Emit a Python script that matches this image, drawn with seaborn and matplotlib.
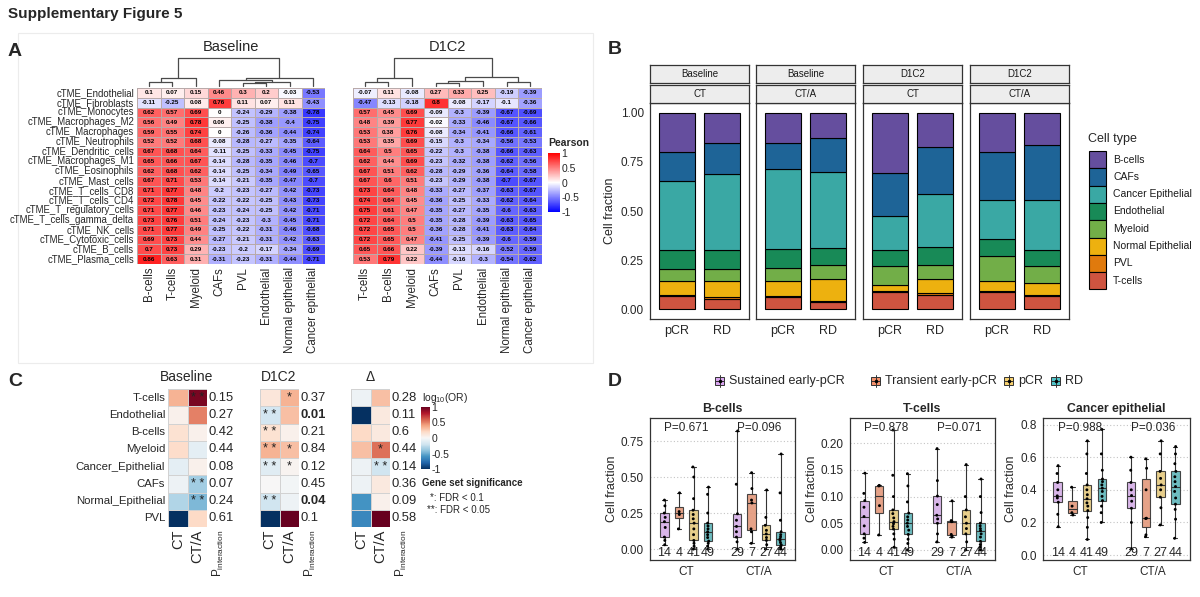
"""Supplementary Figure 5: TME signature correlations, cell fractions, enrichment and boxplots"""

import numpy as np
import pandas as pd
import matplotlib
matplotlib.use("Agg")
import matplotlib.pyplot as plt
import matplotlib.cm as cm
from matplotlib.colors import LinearSegmentedColormap, Normalize
from matplotlib.patches import Rectangle
from matplotlib.ticker import FormatStrFormatter
import seaborn as sns

W, H = 1200, 597

# ---------------- panel A data ----------------
signatures = ["cTME_Endothelial", "cTME_Fibroblasts", "cTME_Monocytes", "cTME_Macrophages_M2",
              "cTME_Macrophages", "cTME_Neutrophils", "cTME_Dendritic_cells", "cTME_Macrophages_M1",
              "cTME_Eosinophils", "cTME_Mast_cells", "cTME_T_cells_CD8", "cTME_T_cells_CD4",
              "cTME_T_regulatory_cells", "cTME_T_cells_gamma_delta", "cTME_NK_cells",
              "cTME_Cytotoxic_cells", "cTME_B_cells", "cTME_Plasma_cells"]

baseline_cols = ["B-cells", "T-cells", "Myeloid", "CAFs", "PVL", "Endothelial",
                 "Normal epithelial", "Cancer epithelial"]
baseline_r = [
    [0.1, 0.07, 0.15, 0.46, 0.3, 0.2, -0.03, -0.53],
    [-0.11, -0.25, 0.08, 0.76, 0.11, 0.07, 0.11, -0.43],
    [0.62, 0.57, 0.69, 0, -0.24, -0.29, -0.38, -0.78],
    [0.56, 0.49, 0.78, 0.06, -0.25, -0.38, -0.4, -0.75],
    [0.59, 0.55, 0.74, 0, -0.26, -0.36, -0.44, -0.74],
    [0.52, 0.52, 0.68, -0.08, -0.28, -0.27, -0.35, -0.64],
    [0.67, 0.68, 0.64, -0.11, -0.25, -0.33, -0.45, -0.75],
    [0.65, 0.66, 0.67, -0.14, -0.28, -0.35, -0.46, -0.7],
    [0.62, 0.68, 0.62, -0.14, -0.25, -0.34, -0.49, -0.65],
    [0.67, 0.71, 0.53, -0.14, -0.21, -0.35, -0.47, -0.7],
    [0.71, 0.77, 0.48, -0.2, -0.23, -0.27, -0.42, -0.73],
    [0.72, 0.78, 0.45, -0.22, -0.22, -0.25, -0.43, -0.73],
    [0.71, 0.77, 0.46, -0.23, -0.24, -0.25, -0.42, -0.71],
    [0.73, 0.76, 0.51, -0.24, -0.23, -0.3, -0.45, -0.71],
    [0.71, 0.77, 0.49, -0.25, -0.22, -0.31, -0.46, -0.68],
    [0.69, 0.73, 0.44, -0.27, -0.21, -0.31, -0.42, -0.63],
    [0.7, 0.73, 0.29, -0.23, -0.2, -0.17, -0.34, -0.69],
    [0.86, 0.63, 0.31, -0.31, -0.23, -0.31, -0.44, -0.71],
]

d1c2_cols = ["T-cells", "B-cells", "Myeloid", "CAFs", "PVL", "Endothelial",
             "Normal epithelial", "Cancer epithelial"]
d1c2_r = [
    [-0.07, 0.11, -0.08, 0.27, 0.33, 0.25, -0.19, -0.39],
    [-0.47, -0.13, -0.18, 0.8, -0.08, -0.17, -0.1, -0.36],
    [0.57, 0.45, 0.69, -0.09, -0.3, -0.39, -0.67, -0.69],
    [0.48, 0.39, 0.77, -0.02, -0.33, -0.46, -0.67, -0.66],
    [0.53, 0.38, 0.76, -0.08, -0.34, -0.41, -0.66, -0.61],
    [0.53, 0.35, 0.69, -0.15, -0.3, -0.34, -0.56, -0.53],
    [0.64, 0.5, 0.65, -0.22, -0.3, -0.38, -0.66, -0.63],
    [0.62, 0.44, 0.69, -0.23, -0.32, -0.38, -0.62, -0.56],
    [0.67, 0.51, 0.62, -0.28, -0.29, -0.36, -0.64, -0.58],
    [0.67, 0.6, 0.51, -0.23, -0.29, -0.38, -0.7, -0.67],
    [0.73, 0.64, 0.48, -0.33, -0.27, -0.37, -0.63, -0.67],
    [0.74, 0.64, 0.45, -0.36, -0.25, -0.33, -0.62, -0.64],
    [0.75, 0.61, 0.47, -0.35, -0.27, -0.35, -0.6, -0.63],
    [0.72, 0.64, 0.5, -0.35, -0.28, -0.39, -0.63, -0.65],
    [0.72, 0.65, 0.5, -0.36, -0.28, -0.41, -0.63, -0.64],
    [0.72, 0.65, 0.47, -0.41, -0.25, -0.39, -0.6, -0.59],
    [0.65, 0.66, 0.22, -0.39, -0.13, -0.16, -0.52, -0.59],
    [0.53, 0.79, 0.22, -0.44, -0.16, -0.3, -0.54, -0.62],
]

# column dendrograms: (height, left, right), leaves are column indices
baseline_tree = (1.0, (0.26, (0.13, 0, 1), 2),
                 (0.26, (0.19, 3, (0.13, (0.09, 4, 5), 6)), 7))
d1c2_tree = (1.0, (0.27, (0.14, 0, 1), 2),
             (0.30, (0.17, (0.11, 3, 4), 5), (0.15, 6, 7)))

# ---------------- panel B data ----------------
samples_time = ["Baseline", "Baseline", "D1C2", "D1C2"]
samples_arm = ["CT", "CT/A", "CT", "CT/A"]
responses = ["pCR", "RD"]
# stacking order bottom -> top; 8 values = (facet1 pCR, RD, facet2 pCR, RD, ...)
cell_types = ["T-cells", "PVL", "Normal Epithelial", "Myeloid", "Endothelial",
              "Cancer Epithelial", "CAFs", "B-cells"]
frac_tcells = [0.065, 0.053, 0.061, 0.039, 0.090, 0.073, 0.090, 0.065]
frac_pvl = [0.006, 0.008, 0.005, 0.005, 0.005, 0.007, 0.005, 0.005]
frac_normal = [0.070, 0.084, 0.077, 0.109, 0.026, 0.073, 0.050, 0.063]
frac_myeloid = [0.066, 0.062, 0.066, 0.070, 0.100, 0.070, 0.124, 0.088]
frac_endo = [0.094, 0.092, 0.095, 0.087, 0.080, 0.093, 0.088, 0.080]
frac_cancer = [0.354, 0.390, 0.410, 0.387, 0.172, 0.269, 0.201, 0.253]
frac_cafs = [0.144, 0.158, 0.133, 0.175, 0.221, 0.240, 0.241, 0.281]
frac_bcells = [0.201, 0.153, 0.153, 0.128, 0.306, 0.175, 0.201, 0.165]
cell_colors = ["#CF5440", "#E07A0D", "#EDB10F", "#72AE48", "#188A57",
               "#3AA8A4", "#1E6497", "#654E9E"]

# ---------------- panel C data ----------------
enrich_rows = ["T-cells", "Endothelial", "B-cells", "Myeloid", "Cancer_Epithelial",
               "CAFs", "Normal_Epithelial", "PVL"]
or_baseline_ct = [0.35, 0.05, 0.15, 0.18, -0.10, -0.05, -0.30, -1.00]
or_baseline_cta = [0.95, 0.50, 0.05, -0.10, 0.05, -0.35, -0.45, 0.20]
sig_baseline_ct = ["", "", "", "", "", "", "", ""]
sig_baseline_cta = ["**", "", "", "", "", "**", "**", ""]
p_baseline = [0.15, 0.27, 0.42, 0.44, 0.08, 0.07, 0.24, 0.61]

or_d1c2_ct = [0.12, -0.18, 0.15, 0.35, -0.12, 0.00, -0.20, -1.00]
or_d1c2_cta = [0.35, 0.30, 0.05, 0.30, 0.03, -0.03, -0.05, 1.00]
sig_d1c2_ct = ["", "**", "**", "**", "**", "", "**", ""]
sig_d1c2_cta = ["*", "", "", "*", "*", "", "", ""]
p_d1c2 = [0.37, 0.01, 0.21, 0.84, 0.12, 0.45, 0.04, 0.1]

or_delta_ct = [-0.05, -1.00, 0.20, 0.30, -0.05, -0.05, -0.60, -0.65]
or_delta_cta = [0.30, 0.10, 0.10, 0.55, -0.20, 0.10, 0.05, 1.00]
sig_delta_ct = ["", "", "", "", "", "", "", ""]
sig_delta_cta = ["", "", "", "*", "**", "", "", ""]
p_delta = [0.28, 0.11, 0.6, 0.44, 0.14, 0.36, 0.09, 0.58]

# ---------------- panel D data ----------------
arms = ["CT", "CT/A"]
groups = ["Sustained early-pCR", "Transient early-pCR", "pCR", "RD"]
group_colors = ["#D9A5F0", "#F4906A", "#F6D06E", "#4FC3C8"]
counts_ct = [14, 4, 41, 49]
counts_cta = [29, 7, 27, 44]

bcells_ct = [
    [0.03, 0.06, 0.083, 0.15, 0.19, 0.22, 0.25, 0.30, 0.34],
    [0.14, 0.24, 0.26, 0.39],
    [0.0, 0.02, 0.04, 0.06, 0.10, 0.14, 0.18, 0.21, 0.24, 0.27, 0.35, 0.50, 0.57],
    [0.0, 0.02, 0.04, 0.055, 0.08, 0.10, 0.12, 0.14, 0.16, 0.18, 0.25, 0.38, 0.43],
]
bcells_cta = [
    [0.0, 0.05, 0.083, 0.12, 0.157, 0.20, 0.245, 0.45, 0.82],
    [0.04, 0.12, 0.14, 0.32, 0.34, 0.42, 0.53],
    [0.0, 0.03, 0.06, 0.08, 0.105, 0.13, 0.165, 0.22, 0.41],
    [0.0, 0.01, 0.02, 0.03, 0.045, 0.06, 0.07, 0.085, 0.10, 0.12, 0.20, 0.39, 0.66],
]
tcells_ct = [
    [0.014, 0.022, 0.03, 0.045, 0.0625, 0.08, 0.0925, 0.106, 0.144],
    [0.028, 0.083, 0.12, 0.121],
    [0.005, 0.02, 0.03, 0.039, 0.044, 0.049, 0.053, 0.06, 0.068, 0.075, 0.10, 0.14, 0.225],
    [0.0, 0.012, 0.02, 0.029, 0.037, 0.044, 0.05, 0.056, 0.062, 0.069, 0.09, 0.12, 0.143],
]
tcells_cta = [
    [0.015, 0.03, 0.05, 0.058, 0.065, 0.085, 0.101, 0.13, 0.19],
    [0.024, 0.026, 0.029, 0.053, 0.053, 0.055, 0.092],
    [0.0, 0.015, 0.03, 0.04, 0.05, 0.062, 0.075, 0.10, 0.16],
    [0.0, 0.005, 0.01, 0.016, 0.024, 0.03, 0.036, 0.04, 0.045, 0.05, 0.07, 0.10, 0.133],
]
cancer_ct = [
    [0.174, 0.25, 0.324, 0.35, 0.363, 0.40, 0.445, 0.50, 0.548],
    [0.246, 0.26, 0.30, 0.416],
    [0.096, 0.17, 0.23, 0.273, 0.30, 0.32, 0.345, 0.37, 0.40, 0.43, 0.50, 0.62, 0.70],
    [0.2, 0.26, 0.30, 0.334, 0.36, 0.39, 0.41, 0.43, 0.45, 0.466, 0.52, 0.62, 0.77],
]
cancer_cta = [
    [0.04, 0.2, 0.287, 0.33, 0.365, 0.40, 0.445, 0.52, 0.60],
    [0.113, 0.124, 0.224, 0.226, 0.40, 0.532, 0.59],
    [0.185, 0.29, 0.355, 0.40, 0.43, 0.47, 0.513, 0.62, 0.70],
    [0.103, 0.22, 0.28, 0.312, 0.35, 0.39, 0.42, 0.45, 0.48, 0.513, 0.56, 0.62, 0.665],
]
pvals_bcells = ["P=0.671", "P=0.096"]
pvals_tcells = ["P=0.878", "P=0.071"]
pvals_cancer = ["P=0.988", "P=0.036"]


def px_axes(fig, x0, y0, x1, y1):
    """add an axes given pixel corners (origin top-left)"""
    return fig.add_axes([x0 / W, 1 - y1 / H, (x1 - x0) / W, (y1 - y0) / H])


def draw_tree(ax, node):
    """draw a dendrogram node, return its x position and height"""
    if isinstance(node, int):
        return node + 0.5, 0.0
    h, left, right = node
    xl, hl = draw_tree(ax, left)
    xr, hr = draw_tree(ax, right)
    ax.plot([xl, xl, xr, xr], [hl, h, h, hr], color="#4a4a4a", lw=0.9)
    return (xl + xr) / 2, h


def corr_heatmap(ax, values, cols, cmap, show_rows):
    df = pd.DataFrame(values, index=signatures, columns=cols)
    labels = df.map(lambda v: f"{v:g}")
    sns.heatmap(df, ax=ax, cmap=cmap, vmin=-1, vmax=1, annot=labels, fmt="", cbar=False,
                annot_kws=dict(fontsize=4.5, fontweight="bold", color="black"),
                linewidths=0.4, linecolor="#b9aaaa", xticklabels=True, yticklabels=True)
    ax.set_xticks(np.arange(len(cols)) + 0.5)
    ax.set_xticklabels(cols, rotation=90, fontsize=8.3)
    ax.set_yticks(np.arange(len(signatures)) + 0.5)
    if show_rows:
        ax.set_yticklabels(signatures, rotation=0, fontsize=6.9)
    else:
        ax.set_yticklabels([])
    ax.tick_params(length=0, pad=2)
    ax.set_xlabel("")
    ax.set_ylabel("")


def enrich_heatmap(ax, ct, cta, sig_ct, sig_cta, pvals, show_rows):
    df = pd.DataFrame({"CT": ct, "CT/A": cta}, index=enrich_rows)
    stars = pd.DataFrame({"CT": sig_ct, "CT/A": sig_cta}, index=enrich_rows)
    stars = stars.map(lambda s: " ".join(s))
    sns.heatmap(df, ax=ax, cmap="RdBu_r", vmin=-1, vmax=1, annot=stars, fmt="", cbar=False,
                annot_kws=dict(fontsize=9, color="#222222"),
                linewidths=0.6, linecolor="#d2d2d2", xticklabels=True, yticklabels=True)
    ax.set_xticks([0.5, 1.5])
    ax.set_xticklabels(["CT", "CT/A"], rotation=90, fontsize=10.5)
    ax.set_yticks(np.arange(len(enrich_rows)) + 0.5)
    if show_rows:
        ax.set_yticklabels(enrich_rows, rotation=0, fontsize=8.2)
    else:
        ax.set_yticklabels([])
    ax.tick_params(length=0, pad=2)
    ax.set_xlabel("")
    ax.set_ylabel("")
    for i, p in enumerate(pvals):
        ax.text(2.08, i + 0.5, f"{p:g}", ha="left", va="center", fontsize=9.4,
                fontweight="bold" if p < 0.05 else "normal", clip_on=False)
    ax.text(2.6, 8.12, r"P$_{interaction}$", rotation=90, ha="center", va="top",
            fontsize=8.5, clip_on=False)


def long_frame(ct_lists, cta_lists):
    rows = []
    for arm, lists in zip(arms, [ct_lists, cta_lists]):
        for g, vals in zip(groups, lists):
            rows += [(arm, g, v) for v in vals]
    return pd.DataFrame(rows, columns=["arm", "group", "value"])


def box_panel(ax, ct_lists, cta_lists, pvals, ylim, ticks, fmt, title):
    df = long_frame(ct_lists, cta_lists)
    ax.set_axisbelow(True)
    ax.yaxis.grid(True, linestyle=(0, (1, 2)), color="#c4c4c4", lw=0.8)
    sns.boxplot(data=df, x="arm", y="value", hue="group", order=arms, hue_order=groups,
                palette=group_colors, width=0.8, gap=0.42, whis=(0, 100), showfliers=False,
                linewidth=0.8, linecolor="#333333", boxprops=dict(alpha=0.9),
                legend=False, ax=ax)
    sns.stripplot(data=df, x="arm", y="value", hue="group", order=arms, hue_order=groups,
                  palette={g: "black" for g in groups}, dodge=True, jitter=0.04, size=2.1,
                  legend=False, ax=ax)
    ax.set_xlim(-0.5, 1.5)
    ax.set_ylim(*ylim)
    ax.set_yticks(ticks)
    ax.yaxis.set_major_formatter(FormatStrFormatter(fmt))
    ax.set_xlabel("")
    ax.set_ylabel("Cell fraction", fontsize=9, labelpad=2)
    ax.tick_params(axis="both", length=3, labelsize=8.5, color="#333333", pad=1.5)
    for s in ax.spines.values():
        s.set_color("#333333")
        s.set_linewidth(0.9)
    offsets = [-0.3, -0.1, 0.1, 0.3]
    trans = ax.get_xaxis_transform()
    for k, counts in enumerate([counts_ct, counts_cta]):
        for off, n in zip(offsets, counts):
            ax.text(k + off, 0.01, str(n), transform=trans, ha="center", va="bottom",
                    fontsize=9)
        ax.text(k, 0.97, pvals[k], transform=trans, ha="center", va="top", fontsize=8.5)
    ax.set_title(title, fontsize=8.8, fontweight="bold", pad=4)


sns.set_theme(style="white")
plt.rcParams["font.family"] = ["Liberation Sans", "DejaVu Sans"]
plt.rcParams["mathtext.default"] = "regular"

fig = plt.figure(figsize=(12, 5.97), dpi=100)

# faint panel frame around A (the composite has light panel borders)
frame = fig.add_axes([0, 0, 1, 1], zorder=-5)
frame.set_xlim(0, W)
frame.set_ylim(H, 0)
frame.axis("off")
frame.add_patch(Rectangle((18, 33), 575, 330, facecolor="none", edgecolor="#ececec", lw=0.8))

# ================= A =================
pearson_cmap = LinearSegmentedColormap.from_list("pearson", ["#0000FF", "#FFFFFF", "#FF0000"])
ax_a1 = px_axes(fig, 137, 88, 325, 264)
corr_heatmap(ax_a1, baseline_r, baseline_cols, pearson_cmap, True)
ax_a2 = px_axes(fig, 353, 88, 542, 264)
corr_heatmap(ax_a2, d1c2_r, d1c2_cols, pearson_cmap, False)

for (x0, x1), tree in zip([(137, 325), (353, 542)], [baseline_tree, d1c2_tree]):
    dax = px_axes(fig, x0, 57, x1, 88)
    draw_tree(dax, tree)
    dax.set_xlim(0, 8)
    dax.set_ylim(-0.08, 1.02)
    dax.axis("off")

cax = px_axes(fig, 548, 153, 560, 212)
cb = fig.colorbar(cm.ScalarMappable(norm=Normalize(-1, 1), cmap=pearson_cmap), cax=cax,
                  ticks=[-1, -0.5, 0, 0.5, 1])
cb.outline.set_visible(False)
cb.ax.set_yticklabels(["-1", "-0.5", "0", "0.5", "1"])
cb.ax.tick_params(length=0, labelsize=7.5, pad=1)

# ================= B =================
fractions = np.array([frac_tcells, frac_pvl, frac_normal, frac_myeloid, frac_endo,
                      frac_cancer, frac_cafs, frac_bcells])
facet_x = [650, 756, 863, 970]
for f, x0 in enumerate(facet_x):
    ax = px_axes(fig, x0, 103, x0 + 99, 319)
    bottoms = np.zeros(2)
    for c in range(len(cell_types)):
        vals = fractions[c, 2 * f:2 * f + 2]
        ax.bar([1, 2], vals, bottom=bottoms, width=0.8, color=cell_colors[c],
               edgecolor="black", linewidth=0.8)
        bottoms += vals
    ax.set_xlim(0.4, 2.6)
    ax.set_ylim(-0.05, 1.05)
    ax.set_xticks([1, 2])
    ax.set_xticklabels(responses, fontsize=9)
    ax.set_yticks([0, 0.25, 0.5, 0.75, 1.0])
    if f == 0:
        ax.set_yticklabels(["0.00", "0.25", "0.50", "0.75", "1.00"], fontsize=8.5)
        ax.set_ylabel("Cell fraction", fontsize=9, labelpad=3)
    else:
        ax.set_yticklabels([])
    ax.tick_params(axis="both", length=3, color="#333333", pad=1.5)
    for s in ax.spines.values():
        s.set_color("#333333")
        s.set_linewidth(0.9)
    for (y0, y1), label in zip([(65, 83), (85, 103)], [samples_time[f], samples_arm[f]]):
        sax = px_axes(fig, x0, y0, x0 + 99, y1)
        sax.set_facecolor("#EDEDED")
        sax.set_xticks([])
        sax.set_yticks([])
        for s in sax.spines.values():
            s.set_color("#333333")
            s.set_linewidth(0.9)
        sax.text(0.5, 0.5, label, ha="center", va="center", fontsize=7, color="#1a1a1a",
                 transform=sax.transAxes)

# ================= C =================
c_axes = [px_axes(fig, 168, 389, 207, 527), px_axes(fig, 260, 389, 299, 527),
          px_axes(fig, 351, 389, 390, 527)]
enrich_heatmap(c_axes[0], or_baseline_ct, or_baseline_cta, sig_baseline_ct, sig_baseline_cta,
               p_baseline, True)
enrich_heatmap(c_axes[1], or_d1c2_ct, or_d1c2_cta, sig_d1c2_ct, sig_d1c2_cta, p_d1c2, False)
enrich_heatmap(c_axes[2], or_delta_ct, or_delta_cta, sig_delta_ct, sig_delta_cta, p_delta, False)

cax2 = px_axes(fig, 421, 407, 430, 469)
cb2 = fig.colorbar(cm.ScalarMappable(norm=Normalize(-1, 1), cmap="RdBu_r"), cax=cax2,
                   ticks=[-1, -0.5, 0, 0.5, 1])
cb2.outline.set_visible(False)
cb2.ax.set_yticklabels(["-1", "-0.5", "0", "0.5", "1"])
cb2.ax.tick_params(length=0, labelsize=7.5, pad=1)

# ================= D =================
d_axes = [px_axes(fig, 650, 418, 795, 560), px_axes(fig, 850, 418, 995, 560),
          px_axes(fig, 1043, 418, 1190, 560)]
box_panel(d_axes[0], bcells_ct, bcells_cta, pvals_bcells, (-0.076, 0.91),
          [0, 0.25, 0.5, 0.75], "%.2f", "B-cells")
box_panel(d_axes[1], tcells_ct, tcells_cta, pvals_tcells, (-0.019, 0.2475),
          [0, 0.05, 0.1, 0.15, 0.2], "%.2f", "T-cells")
box_panel(d_axes[2], cancer_ct, cancer_cta, pvals_cancer, (-0.03, 0.84),
          [0, 0.2, 0.4, 0.6, 0.8], "%.1f", "Cancer epithelial")

# ================= free text / legends =================
ov = fig.add_axes([0, 0, 1, 1])
ov.set_xlim(0, W)
ov.set_ylim(H, 0)
ov.axis("off")

ov.text(8, 14, "Supplementary Figure 5", fontsize=11, fontweight="bold", va="center")
for letter, (x, y) in zip("ABCD", [(8, 52), (608, 49), (8, 382), (608, 381)]):
    ov.text(x, y, letter, fontsize=14, fontweight="bold", va="center")

ov.text(231, 47, "Baseline", fontsize=10.5, ha="center", va="center")
ov.text(447, 47, "D1C2", fontsize=10.5, ha="center", va="center")
ov.text(548, 143, "Pearson", fontsize=7.5, fontweight="bold", va="center")

# cell type legend
ov.text(1088, 139, "Cell type", fontsize=9, va="center")
for i, c in enumerate(range(len(cell_types) - 1, -1, -1)):
    y0 = 151 + i * 17.3
    ov.add_patch(Rectangle((1089, y0), 17, 17.3, facecolor=cell_colors[c],
                           edgecolor="black", lw=0.8))
    ov.text(1113, y0 + 8.6, cell_types[c], fontsize=7.5, va="center", color="#1a1a1a")

# panel C titles and legend
for x, t in zip([187, 279, 370], ["Baseline", "D1C2", "\u0394"]):
    ov.text(x, 377, t, fontsize=10, ha="center", va="center")
ov.text(422, 398, r"log$_{10}$(OR)", fontsize=7.5, va="center")
ov.text(422, 483, "Gene set significance", fontsize=7, fontweight="bold", va="center")
ov.text(430, 498, "*: FDR < 0.1", fontsize=7, va="center")
ov.text(427, 510, "**: FDR < 0.05", fontsize=7, va="center")

# panel D legend
key_x = [715, 871, 1004, 1051]
for kx, g, col in zip(key_x, groups, group_colors):
    ov.plot([kx + 4.5, kx + 4.5], [375, 387], color="#333333", lw=0.7)
    ov.add_patch(Rectangle((kx, 377), 9, 8, facecolor=col, edgecolor="#333333", lw=0.7))
    ov.plot([kx, kx + 9], [381, 381], color="#333333", lw=0.7)
    ov.plot([kx + 4.5], [381], marker="o", ms=1.5, color="black")
    ov.text(kx + 14, 381, g, fontsize=9, va="center")

fig.savefig("out.png", dpi=100)
